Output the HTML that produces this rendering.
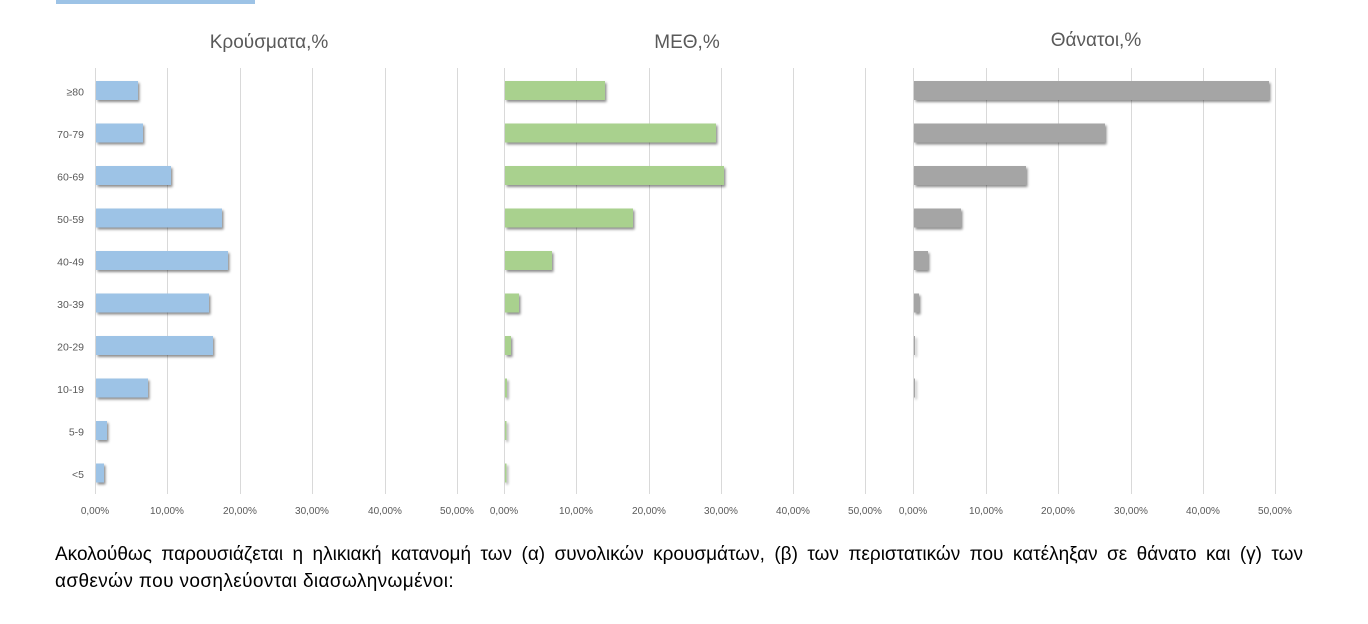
<!DOCTYPE html>
<html>
<head>
<meta charset="utf-8">
<style>
  html,body{margin:0;padding:0;background:#fff;}
  body{width:1368px;height:624px;overflow:hidden;position:relative;font-family:"Liberation Sans","Noto Sans CJK SC",sans-serif;}
  #hl{position:absolute;left:56px;top:0;width:199px;height:4px;background:#9dc3e6;}
  .txt{position:absolute;left:55px;width:1248px;font-size:19px;line-height:21px;color:#000;white-space:nowrap;}
  #l1{top:544px;text-align:justify;text-align-last:justify;}
  #l2{top:571px;letter-spacing:0.38px;}
  svg{position:absolute;left:0;top:0;}
</style>
</head>
<body>
<div id="hl"></div>
<svg width="1368" height="624" viewBox="0 0 1368 624" xmlns="http://www.w3.org/2000/svg">
  <defs>
    <filter id="sh" x="-10%" y="-30%" width="130%" height="180%">
      <feDropShadow dx="1.5" dy="2" stdDeviation="1.3" flood-color="#000" flood-opacity="0.45"/>
    </filter>
  </defs>
  <g font-family="Liberation Sans, sans-serif" fill="#595959">
    <text x="269" y="48" font-size="19" text-anchor="middle">Κρούσματα,%</text>
    <text x="687" y="48" font-size="19" text-anchor="middle">ΜΕΘ,%</text>
    <text x="1096" y="46" font-size="19" text-anchor="middle">Θάνατοι,%</text>
  </g>
  <!-- gridlines -->
  <g stroke="#d9d9d9" stroke-width="1">
    <line x1="95.5" y1="68" x2="95.5" y2="494"/>
    <line x1="167.5" y1="68" x2="167.5" y2="494"/>
    <line x1="240.5" y1="68" x2="240.5" y2="494"/>
    <line x1="312.5" y1="68" x2="312.5" y2="494"/>
    <line x1="385.5" y1="68" x2="385.5" y2="494"/>
    <line x1="457.5" y1="68" x2="457.5" y2="494"/>

    <line x1="504.5" y1="68" x2="504.5" y2="494"/>
    <line x1="576.5" y1="68" x2="576.5" y2="494"/>
    <line x1="649.5" y1="68" x2="649.5" y2="494"/>
    <line x1="721.5" y1="68" x2="721.5" y2="494"/>
    <line x1="793.5" y1="68" x2="793.5" y2="494"/>
    <line x1="865.5" y1="68" x2="865.5" y2="494"/>

    <line x1="913.5" y1="68" x2="913.5" y2="494"/>
    <line x1="986.5" y1="68" x2="986.5" y2="494"/>
    <line x1="1058.5" y1="68" x2="1058.5" y2="494"/>
    <line x1="1131.5" y1="68" x2="1131.5" y2="494"/>
    <line x1="1203.5" y1="68" x2="1203.5" y2="494"/>
    <line x1="1275.5" y1="68" x2="1275.5" y2="494"/>
  </g>
  <!-- row labels -->
  <g font-family="Liberation Sans, sans-serif" font-size="10.5" fill="#595959" text-anchor="end">
    <text x="84" y="95.5">≥80</text>
    <text x="84" y="138">70-79</text>
    <text x="84" y="180.5">60-69</text>
    <text x="84" y="223">50-59</text>
    <text x="84" y="265.5">40-49</text>
    <text x="84" y="308">30-39</text>
    <text x="84" y="350.5">20-29</text>
    <text x="84" y="393">10-19</text>
    <text x="84" y="435.5">5-9</text>
    <text x="84" y="478">&lt;5</text>
  </g>
  <!-- tick labels -->
  <g font-family="Liberation Sans, sans-serif" font-size="10" fill="#595959" text-anchor="middle">
    <text x="95" y="514">0,00%</text>
    <text x="167" y="514">10,00%</text>
    <text x="240" y="514">20,00%</text>
    <text x="312" y="514">30,00%</text>
    <text x="385" y="514">40,00%</text>
    <text x="457" y="514">50,00%</text>
    <text x="504" y="514">0,00%</text>
    <text x="576" y="514">10,00%</text>
    <text x="649" y="514">20,00%</text>
    <text x="721" y="514">30,00%</text>
    <text x="793" y="514">40,00%</text>
    <text x="865" y="514">50,00%</text>
    <text x="913" y="514">0,00%</text>
    <text x="986" y="514">10,00%</text>
    <text x="1058" y="514">20,00%</text>
    <text x="1131" y="514">30,00%</text>
    <text x="1203" y="514">40,00%</text>
    <text x="1275" y="514">50,00%</text>
  </g>
  <!-- chart 1 bars (blue) -->
  <g fill="#9dc3e6" filter="url(#sh)">
    <rect x="96" y="81" width="42" height="19"/>
    <rect x="96" y="123.5" width="47" height="19"/>
    <rect x="96" y="166" width="75" height="19"/>
    <rect x="96" y="208.5" width="126" height="19"/>
    <rect x="96" y="251" width="132" height="19"/>
    <rect x="96" y="293.5" width="113" height="19"/>
    <rect x="96" y="336" width="117" height="19"/>
    <rect x="96" y="378.5" width="52" height="19"/>
    <rect x="96" y="421" width="11" height="19"/>
    <rect x="96" y="463.5" width="8" height="19"/>
  </g>
  <!-- chart 2 bars (green) -->
  <g fill="#a9d18e" filter="url(#sh)">
    <rect x="505" y="81" width="100" height="19"/>
    <rect x="505" y="123.5" width="211" height="19"/>
    <rect x="505" y="166" width="219" height="19"/>
    <rect x="505" y="208.5" width="128" height="19"/>
    <rect x="505" y="251" width="47" height="19"/>
    <rect x="505" y="293.5" width="14" height="19"/>
    <rect x="505" y="336" width="6" height="19"/>
    <rect x="505" y="378.5" width="2" height="19"/>
    <rect x="505" y="421" width="1.5" height="19"/>
    <rect x="505" y="463.5" width="1.5" height="19"/>
  </g>
  <!-- chart 3 bars (gray) -->
  <g fill="#a5a5a5" filter="url(#sh)">
    <rect x="914" y="81" width="355" height="19"/>
    <rect x="914" y="123.5" width="191" height="19"/>
    <rect x="914" y="166" width="112" height="19"/>
    <rect x="914" y="208.5" width="47" height="19"/>
    <rect x="914" y="251" width="14" height="19"/>
    <rect x="914" y="293.5" width="5" height="19"/>
    <rect x="914" y="336" width="1" height="19"/>
    <rect x="914" y="378.5" width="1" height="19"/>
  </g>
</svg>
<div class="txt" id="l1">Ακολούθως παρουσιάζεται η ηλικιακή κατανομή των (α) συνολικών κρουσμάτων, (β) των περιστατικών που κατέληξαν σε θάνατο και (γ) των</div>
<div class="txt" id="l2">ασθενών που νοσηλεύονται διασωληνωμένοι:</div>
</body>
</html>
